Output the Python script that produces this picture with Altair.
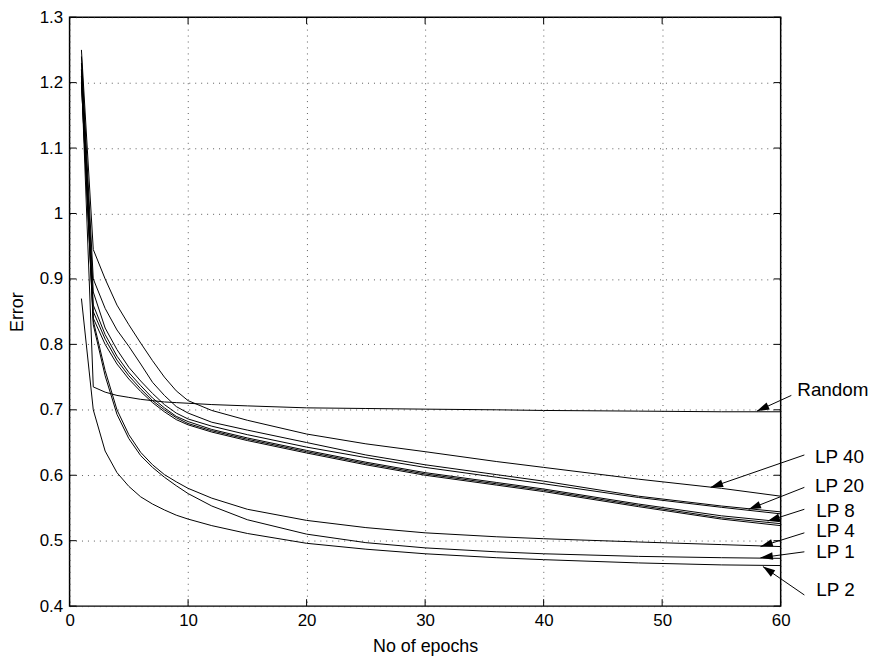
import math
import altair as alt
import pandas as pd

# ---------------- data ----------------
epochs = [1, 2, 3, 4, 5, 6, 7, 8, 9, 10, 12, 15, 20, 25, 30, 36, 40, 48, 55, 60]

random_err = [1.21, 0.735, 0.727, 0.722, 0.719, 0.716, 0.714, 0.712, 0.711, 0.710,
              0.708, 0.706, 0.703, 0.702, 0.701, 0.700, 0.699, 0.698, 0.697, 0.697]
lp40 = [1.25, 0.945, 0.900, 0.860, 0.830, 0.802, 0.775, 0.750, 0.729, 0.714,
        0.699, 0.684, 0.663, 0.648, 0.636, 0.621, 0.612, 0.594, 0.580, 0.568]
lp20 = [1.24, 0.900, 0.855, 0.822, 0.797, 0.770, 0.742, 0.722, 0.705, 0.695,
        0.681, 0.669, 0.650, 0.631, 0.616, 0.601, 0.591, 0.568, 0.553, 0.544]
lp20b = [1.23, 0.880, 0.825, 0.792, 0.765, 0.744, 0.725, 0.708, 0.695, 0.686,
         0.675, 0.662, 0.643, 0.627, 0.612, 0.597, 0.587, 0.566, 0.551, 0.541]
lp8a = [1.22, 0.860, 0.815, 0.782, 0.757, 0.737, 0.718, 0.703, 0.690, 0.682,
        0.670, 0.657, 0.638, 0.620, 0.604, 0.589, 0.579, 0.556, 0.538, 0.529]
lp8b = [1.21, 0.850, 0.808, 0.776, 0.752, 0.732, 0.714, 0.700, 0.688, 0.679,
        0.668, 0.655, 0.636, 0.618, 0.602, 0.587, 0.577, 0.554, 0.535, 0.526]
lp8 = [1.20, 0.840, 0.800, 0.770, 0.747, 0.728, 0.711, 0.697, 0.685, 0.677,
       0.666, 0.653, 0.634, 0.616, 0.600, 0.585, 0.575, 0.552, 0.533, 0.523]
lp4 = [1.20, 0.836, 0.760, 0.700, 0.662, 0.635, 0.616, 0.601, 0.590, 0.580,
       0.565, 0.548, 0.531, 0.520, 0.512, 0.506, 0.503, 0.498, 0.494, 0.491]
lp1 = [1.22, 0.830, 0.752, 0.693, 0.656, 0.630, 0.612, 0.597, 0.584, 0.572,
       0.553, 0.532, 0.510, 0.497, 0.489, 0.483, 0.480, 0.476, 0.474, 0.473]
lp2 = [0.87, 0.700, 0.637, 0.604, 0.583, 0.567, 0.556, 0.547, 0.539, 0.533,
       0.523, 0.511, 0.496, 0.487, 0.480, 0.474, 0.471, 0.466, 0.463, 0.462]

series_names = ["Random", "LP 40", "LP 20", "LP 20b", "LP 8a", "LP 8b", "LP 8", "LP 4", "LP 1", "LP 2"]
series_values = [random_err, lp40, lp20, lp20b, lp8a, lp8b, lp8, lp4, lp1, lp2]

# annotation labels (epoch, error) and arrows (start -> tip)
label_text = ["Random", "LP 40", "LP 20", "LP 8", "LP 4", "LP 1", "LP 2"]
label_x = [61.4, 62.9, 62.9, 63.0, 63.0, 63.0, 63.0]
label_y = [0.730, 0.628, 0.583, 0.545, 0.514, 0.482, 0.424]
arrow_x0 = [60.9, 62.0, 62.0, 62.0, 62.0, 62.0, 62.0]
arrow_y0 = [0.722, 0.631, 0.5815, 0.548, 0.512, 0.483, 0.417]
arrow_x1 = [58.0, 54.1, 57.3, 58.9, 58.3, 58.3, 58.5]
arrow_y1 = [0.698, 0.5815, 0.548, 0.530, 0.491, 0.474, 0.4605]

x_ticks = [0, 10, 20, 30, 40, 50, 60]
y_ticks = [0.4, 0.5, 0.6, 0.7, 0.8, 0.9, 1.0, 1.1, 1.2, 1.3]

# ---------------- build chart ----------------
W, H = 716, 593
X0, X1, Y0, Y1 = 0, 60, 0.4, 1.3

rows = []
for name, vals in zip(series_names, series_values):
    for e, v in zip(epochs, vals):
        rows.append({"series": name, "epoch": e, "error": v})
df = pd.DataFrame(rows)

angles = []
for sx, sy, tx, ty in zip(arrow_x0, arrow_y0, arrow_x1, arrow_y1):
    dx = (tx - sx) * W / (X1 - X0)
    dy = -(ty - sy) * H / (Y1 - Y0)
    angles.append(math.degrees(math.atan2(dx, -dy)) % 360)

ann = pd.DataFrame({"text": label_text, "lx": label_x, "ly": label_y,
                    "x0": arrow_x0, "y0": arrow_y0, "x1": arrow_x1, "y1": arrow_y1,
                    "ang": angles})

xs = alt.Scale(domain=[X0, X1], nice=False, zero=False)
ys = alt.Scale(domain=[Y0, Y1], nice=False, zero=False)
FONT = "Liberation Sans"

x_axis = alt.Axis(values=x_ticks, title="No of epochs", labelPadding=7,
                  titlePadding=9, grid=True, labelFlush=False)
y_axis = alt.Axis(values=y_ticks, format="~g", title="Error", labelPadding=7,
                  titlePadding=13, grid=True, labelFlush=False)

lines = alt.Chart(df).mark_line(color="black", strokeWidth=1).encode(
    x=alt.X("epoch:Q", scale=xs, axis=x_axis),
    y=alt.Y("error:Q", scale=ys, axis=y_axis),
    detail="series:N",
    order="epoch:Q",
)

xt = pd.DataFrame({"t": x_ticks})
yt = pd.DataFrame({"t": y_ticks})
tick_bottom = alt.Chart(xt).mark_rule(color="black", strokeWidth=1).encode(
    x=alt.X("t:Q", scale=xs, axis=x_axis), y=alt.value(H), y2=alt.value(H - 7))
tick_top = alt.Chart(xt).mark_rule(color="black", strokeWidth=1).encode(
    x=alt.X("t:Q", scale=xs, axis=x_axis), y=alt.value(0), y2=alt.value(7))
tick_left = alt.Chart(yt).mark_rule(color="black", strokeWidth=1).encode(
    y=alt.Y("t:Q", scale=ys, axis=y_axis), x=alt.value(0), x2=alt.value(7))
tick_right = alt.Chart(yt).mark_rule(color="black", strokeWidth=1).encode(
    y=alt.Y("t:Q", scale=ys, axis=y_axis), x=alt.value(W), x2=alt.value(W - 7))

arrows = alt.Chart(ann).mark_rule(color="black", strokeWidth=1).encode(
    x=alt.X("x0:Q", scale=xs, axis=x_axis), y=alt.Y("y0:Q", scale=ys, axis=y_axis),
    x2="x1:Q", y2="y1:Q")

heads = alt.Chart(ann).mark_point(
    shape="M0,0L0.5,1.6L-0.5,1.6Z", filled=True, color="black", opacity=1,
    size=240, strokeWidth=0).encode(
    x=alt.X("x1:Q", scale=xs, axis=x_axis), y=alt.Y("y1:Q", scale=ys, axis=y_axis),
    angle=alt.Angle("ang:Q", scale=None))

labels = alt.Chart(ann).mark_text(align="left", baseline="middle", font=FONT,
                                  fontSize=19, color="black").encode(
    x=alt.X("lx:Q", scale=xs, axis=x_axis), y=alt.Y("ly:Q", scale=ys, axis=y_axis),
    text="text:N")

chart = alt.layer(lines, tick_bottom, tick_top, tick_left, tick_right,
                  arrows, heads, labels).properties(
    width=W, height=H,
    autosize=alt.AutoSizeParams(type="none"),
    padding={"left": 62, "top": 7, "right": 98, "bottom": 51},
).configure_view(
    stroke="black", strokeWidth=1.5
).configure_axis(
    labelFont=FONT, titleFont=FONT, labelFontSize=17, titleFontSize=18,
    titleFontWeight="normal", labelColor="black", titleColor="black",
    domain=False, ticks=False, gridColor="#333", gridDash=[1, 5], gridWidth=1,
    gridOpacity=0.8,
)

chart.save("out.html", embed_options={"renderer": "svg", "actions": False})
